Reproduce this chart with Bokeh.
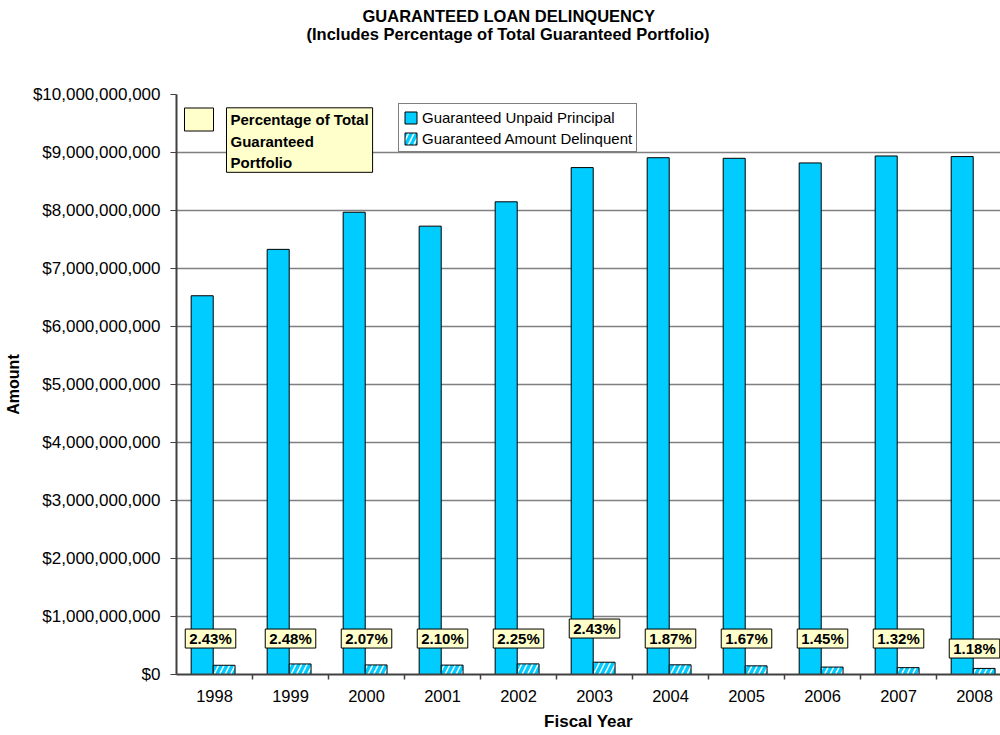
from bokeh.plotting import figure
from bokeh.models import (ColumnDataSource, FixedTicker, NumeralTickFormatter, Range1d,
                          Legend, LegendItem, Label, BoxAnnotation, Title)
from bokeh.transform import dodge
from bokeh.core.properties import value
from bokeh.embed import file_html
from bokeh.resources import INLINE

# ---------------- data ----------------
years = ["1998", "1999", "2000", "2001", "2002", "2003", "2004", "2005", "2006", "2007", "2008"]
unpaid_principal = [6.53e9, 7.33e9, 7.97e9, 7.73e9, 8.15e9, 8.74e9, 8.91e9, 8.90e9, 8.82e9, 8.94e9, 8.93e9]
amount_delinquent = [0.159e9, 0.182e9, 0.165e9, 0.162e9, 0.183e9, 0.212e9, 0.167e9, 0.149e9, 0.128e9, 0.118e9, 0.105e9]
pct_of_portfolio = ["2.43%", "2.48%", "2.07%", "2.10%", "2.25%", "2.43%", "1.87%", "1.67%", "1.45%", "1.32%", "1.18%"]
y_ticks = [0, 1e9, 2e9, 3e9, 4e9, 5e9, 6e9, 7e9, 8e9, 9e9, 1e10]

title_line1 = "GUARANTEED LOAN DELINQUENCY"
title_line2 = "(Includes Percentage of Total Guaranteed Portfolio)"

# ---------------- styling / placement ----------------
FONT = "Liberation Sans"
BLUE = "#00CCFF"
CREAM = "#FFFFCC"
FRAME_W, FRAME_H = 824, 580
label_base_y = 0.62e9                                   # vertical anchor of percentage boxes
label_nudge_px = [0, 0, 0, 0, 0, -10, 0, 0, 0, 0, 10]   # manual label nudges (px)
label_shift_px = [-4, 0, 0, 0, 0, 0, 0, 0, 0, 0, 0]

idx = list(range(len(years)))
src = ColumnDataSource(dict(
    x=idx, year=years, principal=unpaid_principal, delinquent=amount_delinquent,
    pct=pct_of_portfolio, ly=[label_base_y] * len(years), dy=label_nudge_px, dx=label_shift_px,
))

p = figure(width=1000, height=735,
           x_range=Range1d(-0.5, 10.342), y_range=Range1d(0, 1e10),
           output_backend="svg", toolbar_location=None,
           min_border_left=176, min_border_right=0, min_border_top=94, min_border_bottom=61)
p.outline_line_color = None
p.background_fill_color = "white"
p.border_fill_color = "white"

# titles: first added sits nearest the frame (an empty spacer keeps the gap above the frame)
title_style = dict(text_font=FONT, text_font_size="16.5px", text_font_style="bold", text_color="black")
p.add_layout(Title(text=" ", align="left", offset=0, standoff=31.75, **title_style), "above")
p.add_layout(Title(text=title_line2, align="left", offset=130, standoff=0, **title_style), "above")
p.add_layout(Title(text=title_line1, align="left", offset=186, standoff=-5, **title_style), "above")

# bars
r_principal = p.vbar(x=dodge("x", -0.162), top="principal", width=0.29, source=src,
                     fill_color=BLUE, line_color="black", line_width=1)
r_delinq = p.vbar(x=dodge("x", 0.127), top="delinquent", width=0.287, source=src,
                  fill_color="white", line_color="black", line_width=1,
                  hatch_pattern="/", hatch_color=BLUE, hatch_weight=3.5, hatch_scale=11)

# percentage labels
p.text(x="x", y="ly", text="pct", x_offset="dx", y_offset="dy", source=src,
       text_font=value(FONT), text_font_size="15px", text_font_style="bold", text_color="black",
       text_align="center", text_baseline="middle",
       background_fill_color=CREAM, border_line_color="black", border_line_width=1,
       padding=dict(left=4, right=4, top=1, bottom=1))

# axes
p.yaxis.ticker = FixedTicker(ticks=y_ticks)
p.yaxis.formatter = NumeralTickFormatter(format="$0,0")
p.yaxis.major_label_text_font = FONT
p.yaxis.major_label_text_font_size = "17px"
p.yaxis.major_label_text_color = "black"
p.yaxis.major_tick_out = 6
p.yaxis.major_tick_in = 0
p.yaxis.minor_tick_line_color = None
p.yaxis.major_label_standoff = 10
p.yaxis.axis_line_color = "#404040"
p.yaxis.axis_line_width = 2
p.yaxis.major_tick_line_color = "#404040"
p.yaxis.axis_label = "Amount"
p.yaxis.axis_label_text_font = FONT
p.yaxis.axis_label_text_font_size = "16px"
p.yaxis.axis_label_text_font_style = "bold"
p.yaxis.axis_label_text_color = "black"
p.yaxis.axis_label_standoff = 8

p.xaxis.ticker = FixedTicker(ticks=idx, minor_ticks=[i + 0.5 for i in idx])
p.xaxis.major_label_overrides = {i: y for i, y in zip(idx, years)}
p.xaxis.major_label_text_font = FONT
p.xaxis.major_label_text_font_size = "16.5px"
p.xaxis.major_label_text_color = "black"
p.xaxis.major_tick_out = 0
p.xaxis.major_tick_in = 0
p.xaxis.major_tick_line_color = None
p.xaxis.minor_tick_out = 5
p.xaxis.minor_tick_in = 0
p.xaxis.minor_tick_line_color = "#404040"
p.xaxis.minor_tick_line_width = 1.5
p.xaxis.major_label_standoff = 10
p.xaxis.axis_line_color = "#404040"
p.xaxis.axis_line_width = 2
p.xaxis.axis_label = "Fiscal Year"
p.xaxis.axis_label_text_font = FONT
p.xaxis.axis_label_text_font_size = "17px"
p.xaxis.axis_label_text_font_style = "bold"
p.xaxis.axis_label_text_color = "black"
p.xaxis.axis_label_standoff = 7

p.xgrid.visible = False
p.ygrid.ticker = FixedTicker(ticks=y_ticks)
p.ygrid.grid_line_color = "#808080"
p.ygrid.grid_line_width = 1.5

# main legend
legend = Legend(items=[LegendItem(label="Guaranteed Unpaid Principal", renderers=[r_principal]),
                       LegendItem(label="Guaranteed Amount Delinquent", renderers=[r_delinq])],
                location=(222, 522), margin=0, padding=4, spacing=3,
                glyph_width=15, glyph_height=15, label_height=18, label_standoff=4,
                label_text_font=FONT, label_text_font_size="15px", label_text_color="black",
                border_line_color="black", border_line_width=1,
                background_fill_color="white", background_fill_alpha=1)
p.add_layout(legend)

# percentage "legend": cream swatch + text box
swatch = BoxAnnotation(left=8, right=37, top=FRAME_H - 13.5, bottom=FRAME_H - 36.5,
                       left_units="screen", right_units="screen", top_units="screen", bottom_units="screen",
                       fill_color=CREAM, fill_alpha=1, line_color="black", line_width=1, line_alpha=1)
p.add_layout(swatch)

pct_box = Label(x=50, y=FRAME_H - 13.3, x_units="screen", y_units="screen",
                text="Percentage of Total\nGuaranteed\nPortfolio",
                text_font=FONT, text_font_size="15px", text_font_style="bold", text_color="black",
                text_align="left", text_baseline="top", text_line_height=1.28,
                background_fill_color=CREAM, border_line_color="black", border_line_width=1,
                padding=dict(left=4, right=4, top=3, bottom=1))
p.add_layout(pct_box)

open("out.html", "w").write(file_html(p, INLINE))
